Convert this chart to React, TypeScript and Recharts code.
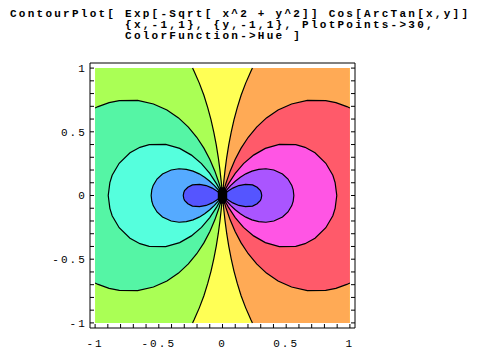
import React from "react";
import { ScatterChart, Scatter, XAxis, YAxis } from "recharts";

type P = [number, number];

const titleLines = [
  "ContourPlot[ Exp[-Sqrt[ x^2 + y^2]] Cos[ArcTan[x,y]]",
  "             {x,-1,1}, {y,-1,1}, PlotPoints->30,",
  "             ColorFunction->Hue ]",
];

const majorTicks = [-1, -0.5, 0, 0.5, 1];
const allTicks = [
  -1, -0.9, -0.8, -0.7, -0.6, -0.5, -0.4, -0.3, -0.2, -0.1, 0,
  0.1, 0.2, 0.3, 0.4, 0.5, 0.6, 0.7, 0.8, 0.9, 1,
];

// upper halves (y >= 0) of the ten contour lines, origin first
const leftC1: P[] = [[0, 0], [-0.039, 0.032], [-0.081, 0.058], [-0.128, 0.078], [-0.18, 0.088], [-0.236, 0.083], [-0.272, 0.065], [-0.298, 0.038], [-0.304, 0.023], [-0.308, 0]];
const leftC2: P[] = [[0, 0], [-0.03, 0.04], [-0.063, 0.078], [-0.1, 0.112], [-0.14, 0.143], [-0.183, 0.17], [-0.231, 0.191], [-0.284, 0.205], [-0.341, 0.21], [-0.403, 0.2], [-0.471, 0.169], [-0.514, 0.129], [-0.544, 0.079], [-0.555, 0.045], [-0.56, 0]];
const leftC3: P[] = [[0, 0], [-0.021, 0.045], [-0.045, 0.089], [-0.1, 0.173], [-0.165, 0.25], [-0.244, 0.317], [-0.336, 0.37], [-0.446, 0.401], [-0.575, 0.399], [-0.648, 0.378], [-0.726, 0.335], [-0.811, 0.253], [-0.866, 0.159], [-0.884, 0.101], [-0.897, 0]];
const leftC4: P[] = [[0, 0], [-0.013, 0.048], [-0.027, 0.096], [-0.06, 0.191], [-0.099, 0.283], [-0.146, 0.372], [-0.202, 0.457], [-0.268, 0.537], [-0.345, 0.609], [-0.436, 0.671], [-0.542, 0.718], [-0.666, 0.746], [-0.81, 0.745], [-0.89, 0.729], [-0.976, 0.698], [-1, 0.687]];
const leftC5: P[] = [[0, 0], [-0.009, 0.1], [-0.02, 0.199], [-0.033, 0.298], [-0.049, 0.397], [-0.068, 0.495], [-0.09, 0.593], [-0.116, 0.69], [-0.146, 0.787], [-0.182, 0.882], [-0.223, 0.975], [-0.235, 1]];

const rightC6: P[] = [[0, 0], [0.009, 0.1], [0.02, 0.199], [0.033, 0.298], [0.049, 0.397], [0.068, 0.495], [0.09, 0.593], [0.116, 0.69], [0.146, 0.787], [0.182, 0.882], [0.223, 0.975], [0.235, 1]];
const rightC7: P[] = [[0, 0], [0.013, 0.048], [0.027, 0.096], [0.06, 0.191], [0.099, 0.283], [0.146, 0.372], [0.202, 0.457], [0.268, 0.537], [0.345, 0.609], [0.436, 0.671], [0.542, 0.718], [0.666, 0.746], [0.81, 0.745], [0.89, 0.729], [0.976, 0.698], [1, 0.687]];
const rightC8: P[] = [[0, 0], [0.021, 0.045], [0.045, 0.089], [0.1, 0.173], [0.165, 0.25], [0.244, 0.317], [0.336, 0.37], [0.446, 0.401], [0.575, 0.399], [0.648, 0.378], [0.726, 0.335], [0.811, 0.253], [0.866, 0.159], [0.884, 0.101], [0.897, 0]];
const rightC9: P[] = [[0, 0], [0.03, 0.04], [0.063, 0.078], [0.1, 0.112], [0.14, 0.143], [0.183, 0.17], [0.231, 0.191], [0.284, 0.205], [0.341, 0.21], [0.403, 0.2], [0.471, 0.169], [0.514, 0.129], [0.544, 0.079], [0.555, 0.045], [0.56, 0]];
const rightC10: P[] = [[0, 0], [0.039, 0.032], [0.081, 0.058], [0.128, 0.078], [0.18, 0.088], [0.236, 0.083], [0.272, 0.065], [0.298, 0.038], [0.304, 0.023], [0.308, 0]];

const plotSquare: P[] = [[-1, -1], [1, -1], [1, 1], [-1, 1]];
const leftCorners: P[] = [[-1, -1], [-1, 1]];
const rightCorners: P[] = [[1, -1], [1, 1]];
// black blob where all the lines meet
const core: P[] = [[-0.02, 0.065], [0.02, 0.065], [0.037, 0.03], [0.037, -0.03], [0.02, -0.065], [-0.02, -0.065], [-0.037, -0.03], [-0.037, 0.03]];

const toPts = (a: P[]) => a.map(([x, y]) => ({ x, y }));
// upper half reversed down to the origin, then mirrored below the x axis
const fullCurve = (upper: P[]): P[] =>
  [...upper].reverse().concat(upper.slice(1).map(([x, y]) => [x, -y] as P));

const bands = [
  { key: "b6", pts: plotSquare, fill: "#ffff55" },
  { key: "b7", pts: fullCurve(rightC6).concat(rightCorners), fill: "#ffaa55" },
  { key: "b8", pts: fullCurve(rightC7), fill: "#ff5a6a" },
  { key: "b9", pts: fullCurve(rightC8), fill: "#ff55e4" },
  { key: "b10", pts: fullCurve(rightC9), fill: "#aa55ff" },
  { key: "b11", pts: fullCurve(rightC10), fill: "#5555ff" },
  { key: "b5", pts: fullCurve(leftC5).concat(leftCorners), fill: "#aaff55" },
  { key: "b4", pts: fullCurve(leftC4), fill: "#55f5a5" },
  { key: "b3", pts: fullCurve(leftC3), fill: "#55ffdd" },
  { key: "b2", pts: fullCurve(leftC2), fill: "#55aaff" },
  { key: "b1", pts: fullCurve(leftC1), fill: "#5555ff" },
  { key: "core", pts: core, fill: "#000" },
];

const contours = [leftC1, leftC2, leftC3, leftC4, leftC5, rightC6, rightC7, rightC8, rightC9, rightC10];

const NoDot = () => <g />;

const labelStyle = {
  fill: "#000",
  fontSize: 11,
  fontFamily: "Liberation Mono, monospace",
  letterSpacing: 2.1,
};

const fmt = (v: number) => (majorTicks.includes(v) ? String(v) : "");
const blank = () => "";

const titleTops = [9, 19.8, 30.8];

export default function App() {
  return (
    <div style={{ position: "absolute", left: 0, top: 0, width: 479, height: 354, background: "#fff" }}>
      {titleLines.map((t, i) => (
        <div
          key={t}
          style={{
            position: "absolute",
            left: 10,
            top: titleTops[i],
            height: 11,
            fontFamily: "Liberation Mono, monospace",
            fontWeight: "bold",
            fontSize: 11,
            letterSpacing: 2.25,
            lineHeight: "11px",
            whiteSpace: "pre",
            color: "#000",
          }}
        >
          {t}
        </div>
      ))}
      <ScatterChart
        width={479}
        height={354}
        margin={{ top: 53, right: 114, bottom: 0, left: 30 }}
        style={{ position: "absolute", left: 0, top: 0 }}
      >
        <XAxis
          type="number"
          dataKey="x"
          domain={[-1.04, 1.04]}
          allowDataOverflow
          ticks={allTicks}
          interval={0}
          tickFormatter={fmt}
          tickSize={-4}
          tickMargin={15.2}
          height={26}
          axisLine={{ stroke: "#000" }}
          tickLine={{ stroke: "#000" }}
          tick={labelStyle}
        />
        <XAxis
          xAxisId="top"
          orientation="top"
          type="number"
          domain={[-1.04, 1.04]}
          allowDataOverflow
          ticks={allTicks}
          interval={0}
          tickFormatter={blank}
          tickSize={-4}
          height={10}
          axisLine={{ stroke: "#000" }}
          tickLine={{ stroke: "#000" }}
        />
        <YAxis
          type="number"
          dataKey="y"
          domain={[-1.04, 1.04]}
          allowDataOverflow
          ticks={allTicks}
          interval={0}
          tickFormatter={fmt}
          tickSize={-4}
          tickMargin={7}
          width={60}
          axisLine={{ stroke: "#000" }}
          tickLine={{ stroke: "#000" }}
          tick={labelStyle}
        />
        <YAxis
          yAxisId="right"
          orientation="right"
          type="number"
          domain={[-1.04, 1.04]}
          allowDataOverflow
          ticks={allTicks}
          interval={0}
          tickFormatter={blank}
          tickSize={-4}
          width={10}
          axisLine={{ stroke: "#000" }}
          tickLine={{ stroke: "#000" }}
        />
        {bands.map((b) => (
          <Scatter
            key={b.key}
            data={toPts(b.pts)}
            shape={NoDot}
            line={{ fill: b.fill, stroke: "none" }}
            isAnimationActive={false}
          />
        ))}
        {contours.map((c, i) => (
          <Scatter
            key={"c" + i}
            data={toPts(fullCurve(c))}
            shape={NoDot}
            line={{ fill: "none", stroke: "#000", strokeWidth: 1.2 }}
            isAnimationActive={false}
          />
        ))}
      </ScatterChart>
    </div>
  );
}
